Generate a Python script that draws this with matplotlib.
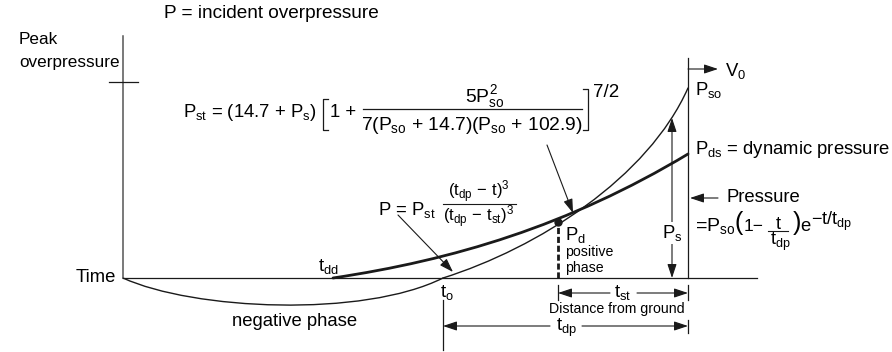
import matplotlib
matplotlib.use('Agg')
import matplotlib.pyplot as plt
from matplotlib.path import Path
from matplotlib.patches import PathPatch

plt.rcParams['font.family'] = ['Liberation Sans', 'DejaVu Sans']
plt.rcParams['mathtext.fontset'] = 'custom'
plt.rcParams['mathtext.rm'] = 'Liberation Sans'
plt.rcParams['mathtext.it'] = 'Liberation Sans'
plt.rcParams['mathtext.sf'] = 'Liberation Sans'
plt.rcParams['mathtext.bf'] = 'Liberation Sans:bold'

# Характерные моменты времени и давления (условные единицы)
t_dd = 210       # начало динамического давления
t_o = 320        # начало положительной фазы
t_d = 435        # точка P_d
t_front = 565    # фронт волны
P_so = 190
P_ds = 124
P_d = 56
P_s_top = 160    # верх стрелки P_s

# Опорные точки кривых Безье
neg_phase = [(0, 0), (70, -32), (240, -40), (t_o, 0)]
pos_phase = [(t_o, 0), (415, 30), (525, 100), (t_front, P_so)]
dyn_phase = [(t_dd, 0), (330, 18), (445, 52), (t_front, P_ds)]

BIG = 13.3
SMALL = 10.2
INK = '#1a1a1a'


def bezier(ax, pts, lw):
    path = Path(pts, [Path.MOVETO, Path.CURVE4, Path.CURVE4, Path.CURVE4])
    ax.add_patch(PathPatch(path, fc='none', ec=INK, lw=lw, capstyle='round'))


def arrow(ax, start, end, style='-|>', lw=0.8):
    ax.annotate('', xy=end, xytext=start,
                arrowprops=dict(arrowstyle=style + ',head_length=0.6,head_width=0.2',
                                mutation_scale=14, lw=lw, color=INK,
                                shrinkA=0, shrinkB=0))


fig = plt.figure(figsize=(8.92, 3.52), dpi=100)
ax = fig.add_axes([0, 0, 1, 1])
ax.set_xlim(-123, 769)
ax.set_ylim(-74, 278)
ax.axis('off')

# Оси
ax.plot([0, 0], [0, 242], color='#555555', lw=1.1)
ax.plot([-14, 15], [196, 196], color=INK, lw=0.9)
ax.plot([0, 634], [0, 0], color=INK, lw=0.9)
ax.plot([t_front, t_front], [0, 220], color=INK, lw=0.9)

# Кривые давления
bezier(ax, neg_phase, 1.0)
bezier(ax, pos_phase, 1.0)
bezier(ax, dyn_phase, 2.0)

ax.plot([t_d, t_d], [0, P_d - 5], color=INK, lw=2, ls=(0, (2.2, 1.0)))
ax.plot(t_d, P_d, 'o', color=INK, ms=5)

# Стрелки
arrow(ax, (t_front, 209), (595, 209))
arrow(ax, (595, 80), (t_front + 2, 80))
arrow(ax, (424, 133), (450, 65))
arrow(ax, (275, 63), (330, 6))
arrow(ax, (549, 0), (549, P_s_top), style='<|-|>')

# Размерные линии t_st и t_dp
ax.plot([t_d, t_d], [-7, -22], color=INK, lw=0.9)
ax.plot([t_front, t_front], [-7, -22], color=INK, lw=0.9)
arrow(ax, (487, -15), (t_d, -15))
arrow(ax, (514, -15), (t_front, -15))
ax.text(500, -15, r'$t_{st}$', fontsize=BIG, ha='center', va='center')

ax.plot([t_o, t_o], [-22, -72], color=INK, lw=0.9)
ax.plot([t_front, t_front], [-42, -55], color=INK, lw=0.9)
arrow(ax, (427, -48), (t_o, -48))
arrow(ax, (459, -48), (t_front, -48))
ax.text(443, -50, r'$t_{dp}$', fontsize=BIG, ha='center', va='center')

# Подписи
ax.text(41, 265, 'P = incident overpressure', fontsize=13.7, va='center')
ax.text(-104, 239, 'Peak', fontsize=12.3, va='center')
ax.text(-104, 216, 'overpressure', fontsize=12.3, va='center')
ax.text(-7, 0, 'Time', fontsize=BIG, ha='right', va='center')
ax.text(172, -44, 'negative phase', fontsize=BIG, ha='center', va='center')
ax.text(195, 11, r'$t_{dd}$', fontsize=BIG, va='center')
ax.text(317, -15, r'$t_o$', fontsize=BIG, va='center')
ax.text(442, 43, r'$P_d$', fontsize=BIG, va='center')
ax.text(442, 26, 'positive', fontsize=SMALL, va='center')
ax.text(442, 10, 'phase', fontsize=SMALL, va='center')
ax.text(494, -31, 'Distance from ground', fontsize=SMALL, ha='center', va='center')
ax.text(549, 45, r'$P_s$', fontsize=BIG, ha='center', va='center',
        bbox=dict(fc='white', ec='none', pad=1))
ax.text(572, 188, r'$P_{so}$', fontsize=BIG, va='center')
ax.text(572, 128, r'$P_{ds}$ = dynamic pressure', fontsize=BIG, va='center')
ax.text(602, 207, r'$V_0$', fontsize=BIG, va='center')
ax.text(604, 80, 'Pressure', fontsize=BIG, va='center')

# Формула Фридлендера
ax.text(572, 47, r'=$P_{so}$', fontsize=14, va='baseline')
ax.text(611, 55, '(', fontsize=18, va='center')
ax.text(621, 47, '1−', fontsize=12.5, va='baseline')
ax.text(655, 49, 't', fontsize=13, ha='center', va='baseline')
ax.plot([645, 665], [47, 47], color=INK, lw=0.8)
ax.text(657, 33, r'$t_{dp}$', fontsize=13, ha='center', va='baseline')
ax.text(670, 55, ')', fontsize=18, va='center')
ax.text(677, 47, 'e', fontsize=BIG, va='baseline')
ax.text(688, 53, r'$-t/t_{dp}$', fontsize=13, va='baseline')

# Формула P_st
ax.text(60, 161, r'$P_{st}$ = (14.7 + $P_s$)', fontsize=BIG, va='baseline')
ax.plot([205, 200, 200, 205], [179, 179, 148, 148], color=INK, lw=0.9)
ax.text(207, 161, '1 +', fontsize=BIG, va='baseline')
ax.plot([240, 459], [169, 169], color=INK, lw=0.9)
ax.text(362, 176, r'$5P_{so}^2$', fontsize=13.9, ha='center', va='baseline')
ax.text(349, 148, r'7($P_{so}$ + 14.7)($P_{so}$ + 102.9)', fontsize=13.9,
        ha='center', va='baseline')
ax.plot([460, 465, 465, 460], [189, 189, 148, 148], color=INK, lw=0.9)
ax.text(470, 181, '7/2', fontsize=13.5, va='baseline')

# Формула P
ax.text(255, 68, r'P = $P_{st}$', fontsize=BIG, va='center')
ax.plot([320, 393], [74, 74], color=INK, lw=0.8)
ax.text(356, 86, r'$(t_{dp}\,-\,t)^3$', fontsize=12, ha='center', va='center')
ax.text(356, 61, r'$(t_{dp}\,-\,t_{st})^3$', fontsize=12, ha='center', va='center')

plt.savefig('out.png', dpi=100)
